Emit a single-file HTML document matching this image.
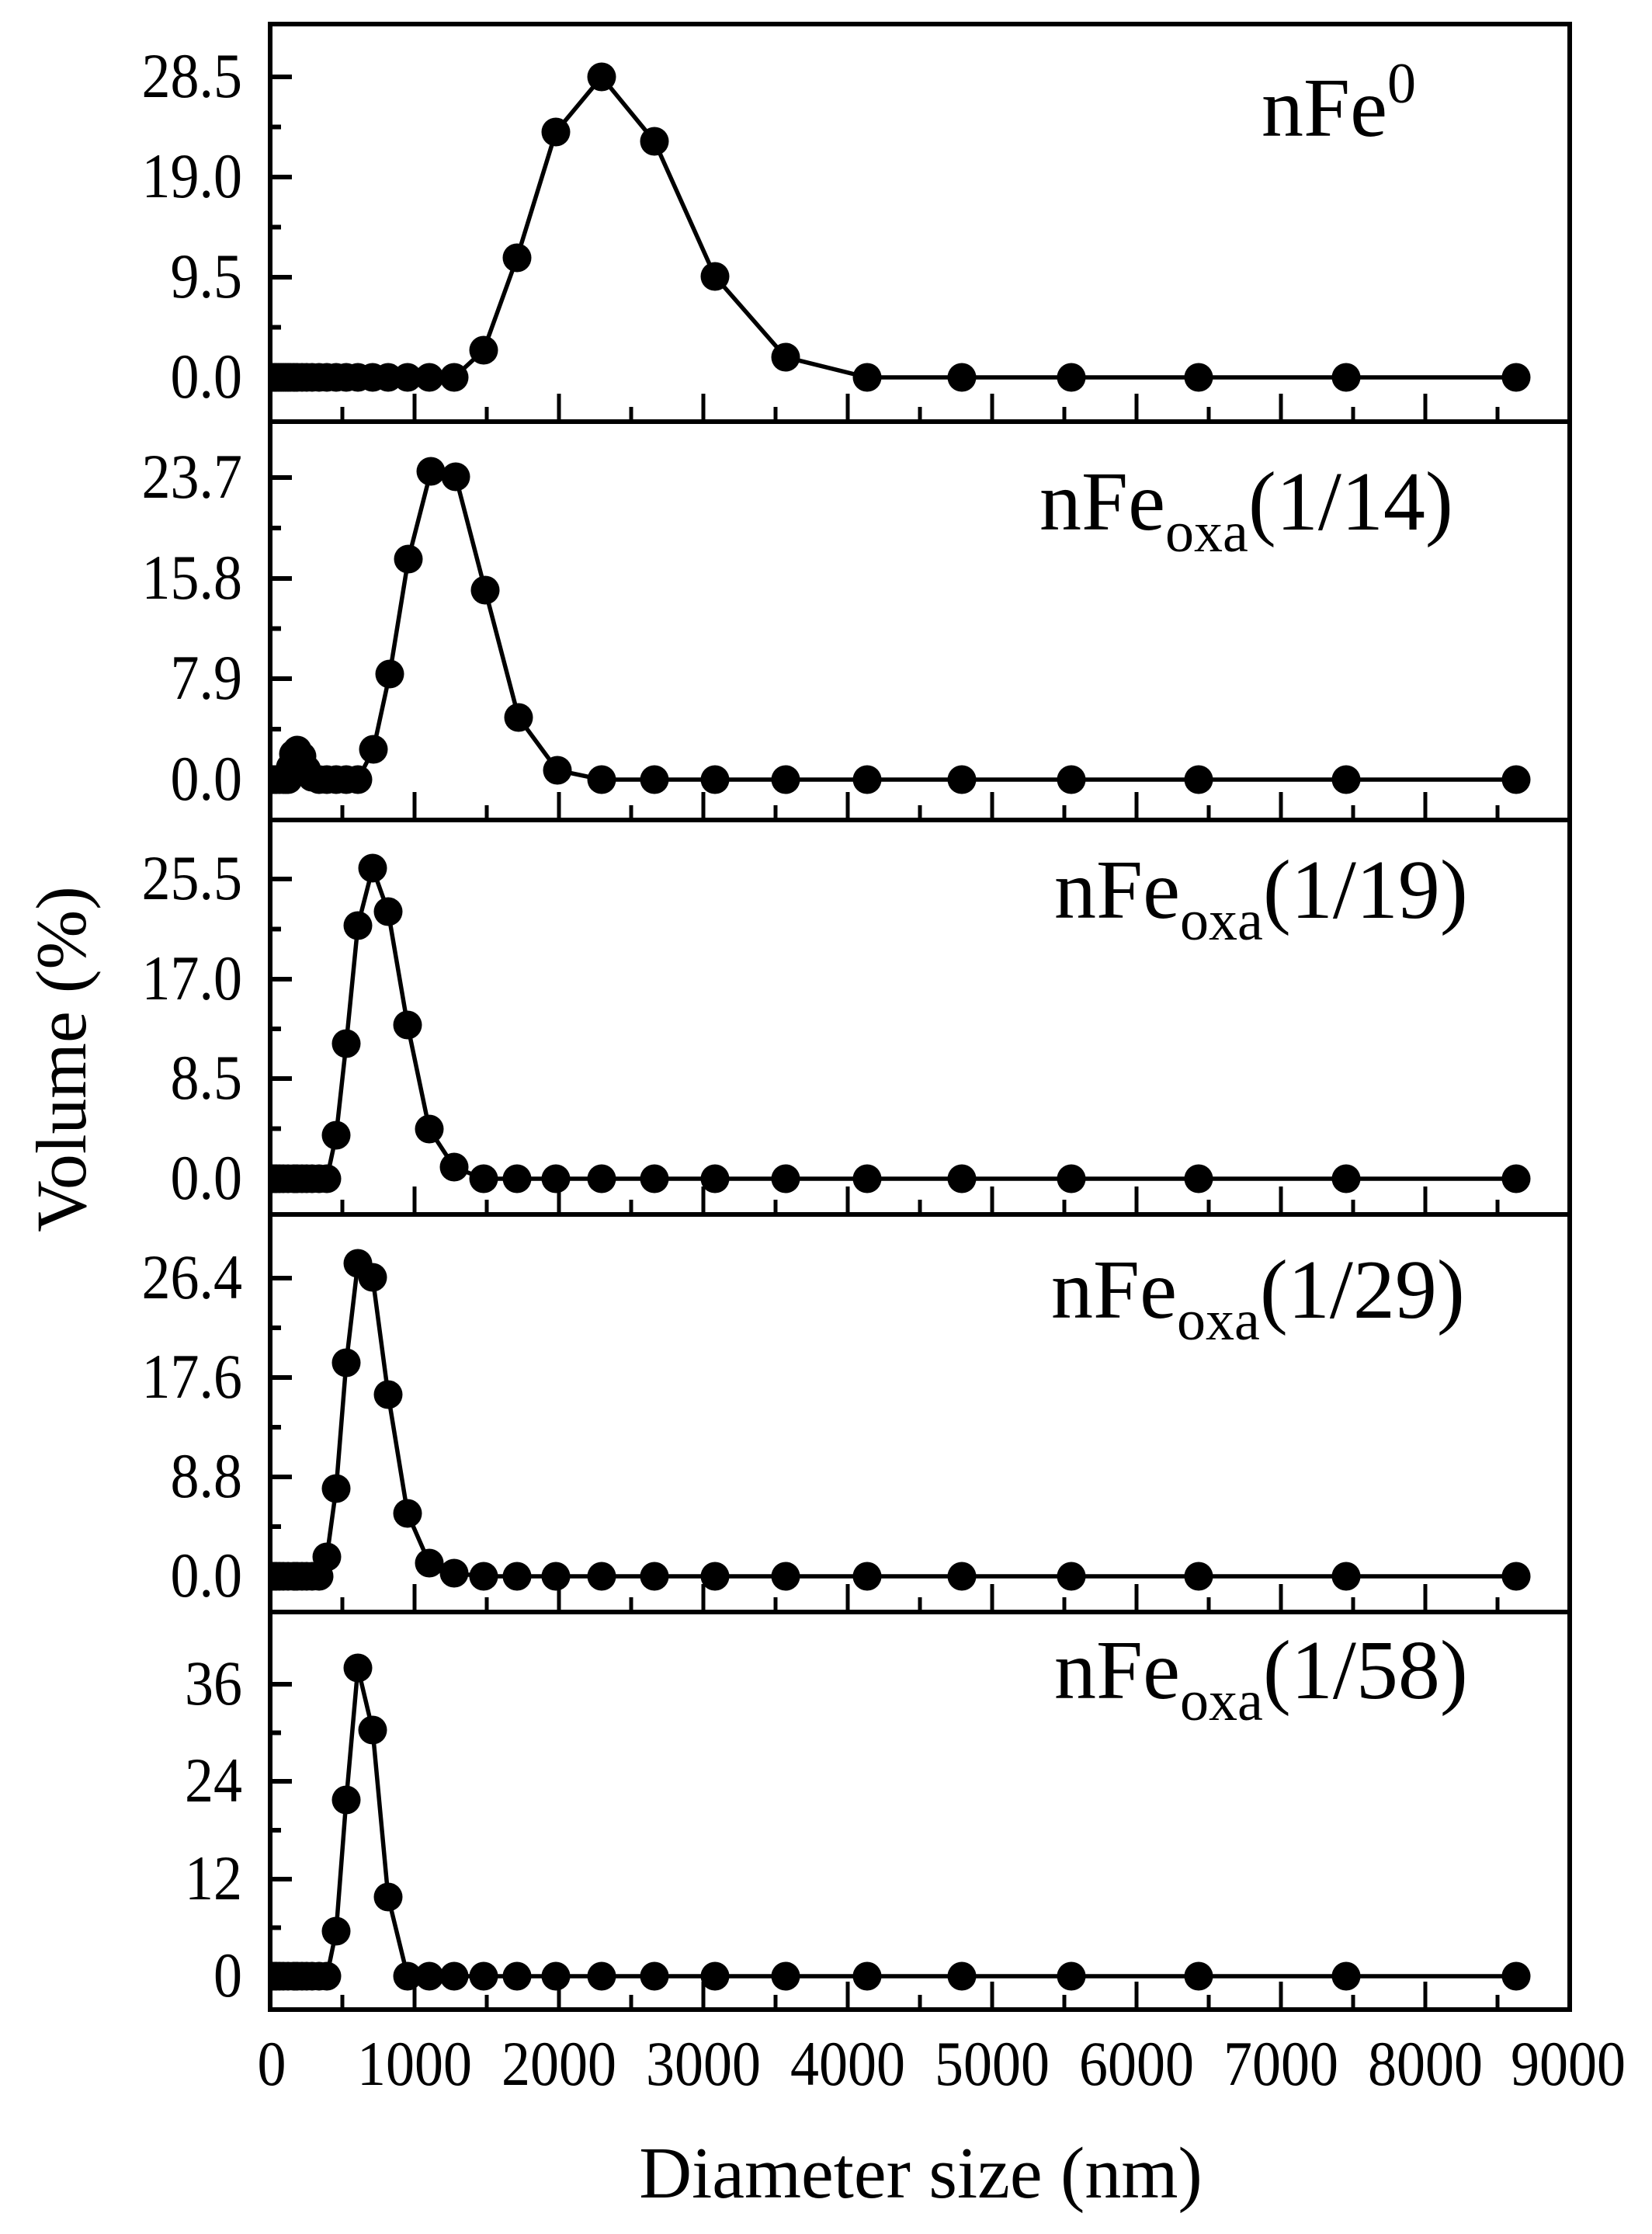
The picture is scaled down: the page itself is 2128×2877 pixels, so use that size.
<!DOCTYPE html>
<html><head><meta charset="utf-8"><style>html,body{margin:0;padding:0;background:#fff}svg{display:block}</style></head>
<body>
<svg width="2128" height="2877" viewBox="0 0 2128 2877" xmlns="http://www.w3.org/2000/svg" font-family="'Liberation Serif', serif" fill="#000">
<defs>
<clipPath id="c1"><rect x="351" y="34" width="1668" height="506"/></clipPath>
<clipPath id="c2"><rect x="351" y="546" width="1668" height="507"/></clipPath>
<clipPath id="c3"><rect x="351" y="1059" width="1668" height="502"/></clipPath>
<clipPath id="c4"><rect x="351" y="1567" width="1668" height="506"/></clipPath>
<clipPath id="c5"><rect x="351" y="2079" width="1668" height="506"/></clipPath>
</defs>
<g id="frame" stroke="#000" fill="none">
<rect x="348" y="31" width="1674" height="2557" stroke-width="6"/>
<line x1="348" y1="543" x2="2022" y2="543" stroke-width="6"/>
<line x1="348" y1="1056" x2="2022" y2="1056" stroke-width="6"/>
<line x1="348" y1="1564" x2="2022" y2="1564" stroke-width="6"/>
<line x1="348" y1="2076" x2="2022" y2="2076" stroke-width="6"/>
</g>
<g stroke="#000" stroke-width="6">
<path d="M348 99h28M348 228h28M348 357h28M348 486h28M348 163.5h14M348 292.5h14M348 421.5h14"/>
<path d="M348 615h28M348 745h28M348 874h28M348 1004h28M348 680h14M348 809.5h14M348 939h14"/>
<path d="M348 1132h28M348 1261h28M348 1389h28M348 1518h28M348 1196.5h14M348 1325h14M348 1453.5h14"/>
<path d="M348 1646h28M348 1774h28M348 1902h28M348 2030h28M348 1710h14M348 1838h14M348 1966h14"/>
<path d="M348 2169h28M348 2294h28M348 2420h28M348 2545h28M348 2231.5h14M348 2357h14M348 2482.5h14"/>
</g>
<g stroke="#000" stroke-width="5">
<path id="xt1" d="M534 540v-33M720 540v-33M906 540v-33M1092 540v-33M1278 540v-33M1464 540v-33M1650 540v-33M1836 540v-33M441 540v-16M627 540v-16M813 540v-16M999 540v-16M1185 540v-16M1371 540v-16M1557 540v-16M1743 540v-16M1929 540v-16"/>
<use href="#xt1" y="513"/>
<use href="#xt1" y="1021"/>
<use href="#xt1" y="1533"/>
<use href="#xt1" y="2045"/>
</g>
<g font-size="74" text-anchor="end">
<text x="312" y="125" transform="matrix(1,0,0,1.1,0,-12.5)">28.5</text><text x="312" y="254" transform="matrix(1,0,0,1.1,0,-25.4)">19.0</text><text x="312" y="383" transform="matrix(1,0,0,1.1,0,-38.3)">9.5</text><text x="312" y="512" transform="matrix(1,0,0,1.1,0,-51.2)">0.0</text>
<text x="312" y="641" transform="matrix(1,0,0,1.1,0,-64.1)">23.7</text><text x="312" y="771" transform="matrix(1,0,0,1.1,0,-77.1)">15.8</text><text x="312" y="900" transform="matrix(1,0,0,1.1,0,-90)">7.9</text><text x="312" y="1030" transform="matrix(1,0,0,1.1,0,-103)">0.0</text>
<text x="312" y="1158" transform="matrix(1,0,0,1.1,0,-115.8)">25.5</text><text x="312" y="1287" transform="matrix(1,0,0,1.1,0,-128.7)">17.0</text><text x="312" y="1415" transform="matrix(1,0,0,1.1,0,-141.5)">8.5</text><text x="312" y="1544" transform="matrix(1,0,0,1.1,0,-154.4)">0.0</text>
<text x="312" y="1672" transform="matrix(1,0,0,1.1,0,-167.2)">26.4</text><text x="312" y="1800" transform="matrix(1,0,0,1.1,0,-180)">17.6</text><text x="312" y="1928" transform="matrix(1,0,0,1.1,0,-192.8)">8.8</text><text x="312" y="2056" transform="matrix(1,0,0,1.1,0,-205.6)">0.0</text>
<text x="312" y="2195" transform="matrix(1,0,0,1.1,0,-219.5)">36</text><text x="312" y="2320" transform="matrix(1,0,0,1.1,0,-232)">24</text><text x="312" y="2446" transform="matrix(1,0,0,1.1,0,-244.6)">12</text><text x="312" y="2571" transform="matrix(1,0,0,1.1,0,-257.1)">0</text>
</g>
<g font-size="74" text-anchor="middle" transform="matrix(1,0,0,1.1,0,-268.5)">
<text x="350" y="2685">0</text><text x="534" y="2685">1000</text><text x="720" y="2685">2000</text><text x="906" y="2685">3000</text><text x="1092" y="2685">4000</text><text x="1278" y="2685">5000</text><text x="1464" y="2685">6000</text><text x="1650" y="2685">7000</text><text x="1836" y="2685">8000</text><text x="2020" y="2685">9000</text>
</g>
<text x="1186" y="2830" font-size="94" text-anchor="middle">Diameter size (nm)</text>
<text transform="translate(110,1364) rotate(-90)" font-size="92" text-anchor="middle">Volume (%)</text>
<text x="1625" y="175" font-size="108">nFe<tspan font-size="74" dy="-43">0</tspan></text>
<text x="1339" y="682" font-size="108">nFe<tspan font-size="74" dy="28">oxa</tspan><tspan dy="-28">(1/14)</tspan></text>
<text x="1358" y="1182" font-size="108">nFe<tspan font-size="74" dy="28">oxa</tspan><tspan dy="-28">(1/19)</tspan></text>
<text x="1354" y="1697" font-size="108">nFe<tspan font-size="74" dy="28">oxa</tspan><tspan dy="-28">(1/29)</tspan></text>
<text x="1358" y="2187" font-size="108">nFe<tspan font-size="74" dy="28">oxa</tspan><tspan dy="-28">(1/58)</tspan></text>

<g clip-path="url(#c1)">
<polyline fill="none" stroke="#000" stroke-width="5.5" points="352,486 360,486 378,486 395,486 421,486 446,486 480,486 525,486 553,486 585,486 623,451 666,332 716,170 775,99 843,182 921,356 1012,460 1117,486 1239,486 1380,486 1544,486 1734,486 1953,486"/>
<g>
<circle cx="352" cy="486" r="18.5"/><circle cx="354" cy="486" r="18.5"/><circle cx="356" cy="486" r="18.5"/><circle cx="359" cy="486" r="18.5"/><circle cx="362" cy="486" r="18.5"/><circle cx="365" cy="486" r="18.5"/><circle cx="368" cy="486" r="18.5"/><circle cx="371" cy="486" r="18.5"/><circle cx="374" cy="486" r="18.5"/><circle cx="378" cy="486" r="18.5"/><circle cx="383" cy="486" r="18.5"/><circle cx="389" cy="486" r="18.5"/><circle cx="395" cy="486" r="18.5"/><circle cx="402" cy="486" r="18.5"/><circle cx="411" cy="486" r="18.5"/><circle cx="421" cy="486" r="18.5"/><circle cx="433" cy="486" r="18.5"/><circle cx="446" cy="486" r="18.5"/><circle cx="461" cy="486" r="18.5"/><circle cx="480" cy="486" r="18.5"/><circle cx="500" cy="486" r="18.5"/><circle cx="525" cy="486" r="18.5"/><circle cx="553" cy="486" r="18.5"/><circle cx="585" cy="486" r="18.5"/>
<circle cx="623" cy="451" r="18.5"/><circle cx="666" cy="332" r="18.5"/><circle cx="716" cy="170" r="18.5"/><circle cx="775" cy="99" r="18.5"/><circle cx="843" cy="182" r="18.5"/><circle cx="921" cy="356" r="18.5"/><circle cx="1012" cy="460" r="18.5"/>
<circle cx="1117" cy="486" r="18.5"/><circle cx="1239" cy="486" r="18.5"/><circle cx="1380" cy="486" r="18.5"/><circle cx="1544" cy="486" r="18.5"/><circle cx="1734" cy="486" r="18.5"/><circle cx="1953" cy="486" r="18.5"/>
</g></g>

<g clip-path="url(#c2)">
<polyline fill="none" stroke="#000" stroke-width="5.5" points="352,1004 368,1004 374,988 378,971 383,966 389,974 395,991 402,1001 411,1004 446,1004 461,1004 481,965 502,868 526,720 555,607 587,614 625,760 668,924 718,992 775,1004 843,1004 921,1004 1012,1004 1117,1004 1239,1004 1380,1004 1544,1004 1734,1004 1953,1004"/>
<g>
<circle cx="352" cy="1004" r="18.5"/><circle cx="356" cy="1004" r="18.5"/><circle cx="360" cy="1004" r="18.5"/><circle cx="365" cy="1004" r="18.5"/><circle cx="368" cy="1004" r="18.5"/><circle cx="371" cy="1004" r="18.5"/>
<circle cx="374" cy="988" r="18.5"/><circle cx="378" cy="971" r="18.5"/><circle cx="383" cy="966" r="18.5"/><circle cx="389" cy="974" r="18.5"/><circle cx="395" cy="991" r="18.5"/><circle cx="402" cy="1001" r="18.5"/>
<circle cx="411" cy="1004" r="18.5"/><circle cx="421" cy="1004" r="18.5"/><circle cx="433" cy="1004" r="18.5"/><circle cx="446" cy="1004" r="18.5"/><circle cx="461" cy="1004" r="18.5"/>
<circle cx="481" cy="965" r="18.5"/><circle cx="502" cy="868" r="18.5"/><circle cx="526" cy="720" r="18.5"/><circle cx="555" cy="607" r="18.5"/><circle cx="587" cy="614" r="18.5"/><circle cx="625" cy="760" r="18.5"/><circle cx="668" cy="924" r="18.5"/><circle cx="718" cy="992" r="18.5"/>
<circle cx="775" cy="1004" r="18.5"/><circle cx="843" cy="1004" r="18.5"/><circle cx="921" cy="1004" r="18.5"/><circle cx="1012" cy="1004" r="18.5"/><circle cx="1117" cy="1004" r="18.5"/><circle cx="1239" cy="1004" r="18.5"/><circle cx="1380" cy="1004" r="18.5"/><circle cx="1544" cy="1004" r="18.5"/><circle cx="1734" cy="1004" r="18.5"/><circle cx="1953" cy="1004" r="18.5"/>
</g></g>

<g clip-path="url(#c3)">
<polyline fill="none" stroke="#000" stroke-width="5.5" points="352,1518 421,1518 433,1462 446,1344 461,1192 480,1118 500,1174 525,1320 553,1454 585,1503 623,1518 666,1518 716,1518 775,1518 843,1518 921,1518 1012,1518 1117,1518 1239,1518 1380,1518 1544,1518 1734,1518 1953,1518"/>
<g>
<circle cx="352" cy="1518" r="18.5"/><circle cx="356" cy="1518" r="18.5"/><circle cx="360" cy="1518" r="18.5"/><circle cx="365" cy="1518" r="18.5"/><circle cx="371" cy="1518" r="18.5"/><circle cx="378" cy="1518" r="18.5"/><circle cx="383" cy="1518" r="18.5"/><circle cx="389" cy="1518" r="18.5"/><circle cx="395" cy="1518" r="18.5"/><circle cx="402" cy="1518" r="18.5"/><circle cx="411" cy="1518" r="18.5"/><circle cx="421" cy="1518" r="18.5"/>
<circle cx="433" cy="1462" r="18.5"/><circle cx="446" cy="1344" r="18.5"/><circle cx="461" cy="1192" r="18.5"/><circle cx="480" cy="1118" r="18.5"/><circle cx="500" cy="1174" r="18.5"/><circle cx="525" cy="1320" r="18.5"/><circle cx="553" cy="1454" r="18.5"/><circle cx="585" cy="1503" r="18.5"/>
<circle cx="623" cy="1518" r="18.5"/><circle cx="666" cy="1518" r="18.5"/><circle cx="716" cy="1518" r="18.5"/><circle cx="775" cy="1518" r="18.5"/><circle cx="843" cy="1518" r="18.5"/><circle cx="921" cy="1518" r="18.5"/><circle cx="1012" cy="1518" r="18.5"/><circle cx="1117" cy="1518" r="18.5"/><circle cx="1239" cy="1518" r="18.5"/><circle cx="1380" cy="1518" r="18.5"/><circle cx="1544" cy="1518" r="18.5"/><circle cx="1734" cy="1518" r="18.5"/><circle cx="1953" cy="1518" r="18.5"/>
</g></g>

<g clip-path="url(#c4)">
<polyline fill="none" stroke="#000" stroke-width="5.5" points="352,2030 411,2030 421,2005 433,1917 446,1755 461,1627 480,1645 500,1796 525,1949 553,2013 585,2026 623,2030 666,2030 716,2030 775,2030 843,2030 921,2030 1012,2030 1117,2030 1239,2030 1380,2030 1544,2030 1734,2030 1953,2030"/>
<g>
<circle cx="352" cy="2030" r="18.5"/><circle cx="356" cy="2030" r="18.5"/><circle cx="360" cy="2030" r="18.5"/><circle cx="365" cy="2030" r="18.5"/><circle cx="371" cy="2030" r="18.5"/><circle cx="378" cy="2030" r="18.5"/><circle cx="383" cy="2030" r="18.5"/><circle cx="389" cy="2030" r="18.5"/><circle cx="395" cy="2030" r="18.5"/><circle cx="402" cy="2030" r="18.5"/><circle cx="411" cy="2030" r="18.5"/>
<circle cx="421" cy="2005" r="18.5"/><circle cx="433" cy="1917" r="18.5"/><circle cx="446" cy="1755" r="18.5"/><circle cx="461" cy="1627" r="18.5"/><circle cx="480" cy="1645" r="18.5"/><circle cx="500" cy="1796" r="18.5"/><circle cx="525" cy="1949" r="18.5"/><circle cx="553" cy="2013" r="18.5"/><circle cx="585" cy="2026" r="18.5"/>
<circle cx="623" cy="2030" r="18.5"/><circle cx="666" cy="2030" r="18.5"/><circle cx="716" cy="2030" r="18.5"/><circle cx="775" cy="2030" r="18.5"/><circle cx="843" cy="2030" r="18.5"/><circle cx="921" cy="2030" r="18.5"/><circle cx="1012" cy="2030" r="18.5"/><circle cx="1117" cy="2030" r="18.5"/><circle cx="1239" cy="2030" r="18.5"/><circle cx="1380" cy="2030" r="18.5"/><circle cx="1544" cy="2030" r="18.5"/><circle cx="1734" cy="2030" r="18.5"/><circle cx="1953" cy="2030" r="18.5"/>
</g></g>

<g clip-path="url(#c5)">
<polyline fill="none" stroke="#000" stroke-width="5.5" points="352,2545 421,2545 433,2487 446,2318 461,2148 480,2228 500,2443 525,2545 553,2545 585,2545 623,2545 666,2545 716,2545 775,2545 843,2545 921,2545 1012,2545 1117,2545 1239,2545 1380,2545 1544,2545 1734,2545 1953,2545"/>
<g>
<circle cx="352" cy="2545" r="18.5"/><circle cx="356" cy="2545" r="18.5"/><circle cx="360" cy="2545" r="18.5"/><circle cx="365" cy="2545" r="18.5"/><circle cx="371" cy="2545" r="18.5"/><circle cx="378" cy="2545" r="18.5"/><circle cx="383" cy="2545" r="18.5"/><circle cx="389" cy="2545" r="18.5"/><circle cx="395" cy="2545" r="18.5"/><circle cx="402" cy="2545" r="18.5"/><circle cx="411" cy="2545" r="18.5"/><circle cx="421" cy="2545" r="18.5"/>
<circle cx="433" cy="2487" r="18.5"/><circle cx="446" cy="2318" r="18.5"/><circle cx="461" cy="2148" r="18.5"/><circle cx="480" cy="2228" r="18.5"/><circle cx="500" cy="2443" r="18.5"/>
<circle cx="525" cy="2545" r="18.5"/><circle cx="553" cy="2545" r="18.5"/><circle cx="585" cy="2545" r="18.5"/><circle cx="623" cy="2545" r="18.5"/><circle cx="666" cy="2545" r="18.5"/><circle cx="716" cy="2545" r="18.5"/><circle cx="775" cy="2545" r="18.5"/><circle cx="843" cy="2545" r="18.5"/><circle cx="921" cy="2545" r="18.5"/><circle cx="1012" cy="2545" r="18.5"/><circle cx="1117" cy="2545" r="18.5"/><circle cx="1239" cy="2545" r="18.5"/><circle cx="1380" cy="2545" r="18.5"/><circle cx="1544" cy="2545" r="18.5"/><circle cx="1734" cy="2545" r="18.5"/><circle cx="1953" cy="2545" r="18.5"/>
</g></g>
</svg>
</body></html>
